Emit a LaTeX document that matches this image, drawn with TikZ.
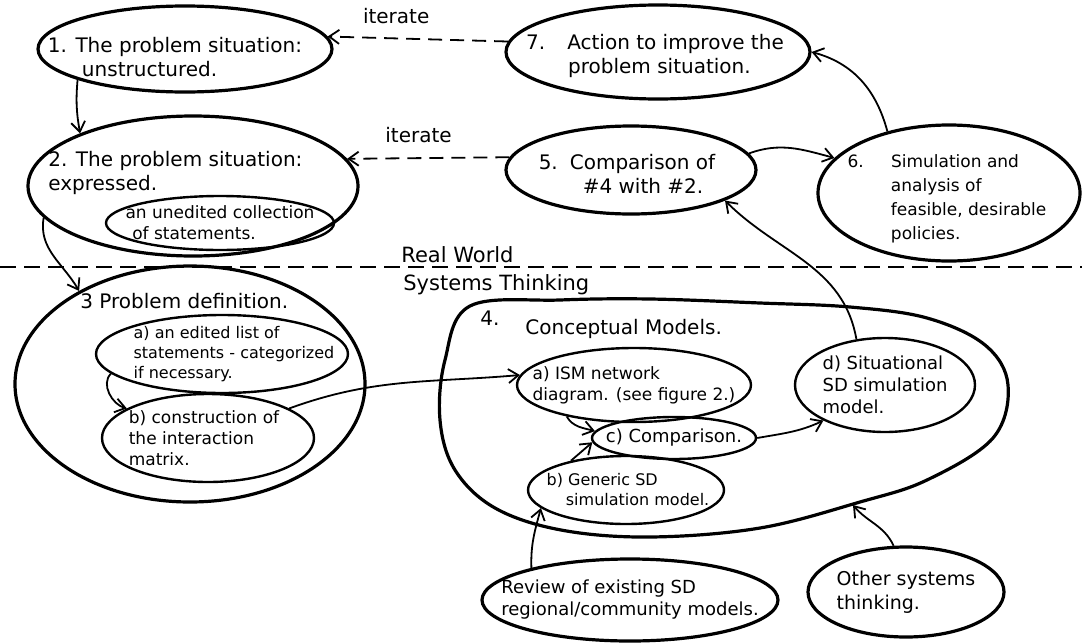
\documentclass[tikz,border=0pt]{standalone}
\usepackage{fontspec}
\setmainfont{DejaVu Sans}
\usetikzlibrary{shapes.geometric,arrows.meta}
\begin{document}
\begin{tikzpicture}[
            x=0.5pt,y=-0.5pt,
            every node/.append style={inner sep=0pt,align=left},
            stage/.style={ellipse,draw,line width=1.6pt},
            part/.style={ellipse,draw,line width=1.2pt},
            big/.style={font=\fontsize{10}{12}\selectfont},
            mid/.style={font=\fontsize{9}{11}\selectfont},
            small/.style={font=\fontsize{8.5}{10.5}\selectfont},
            tiny/.style={font=\fontsize{8}{10}\selectfont},
            flow/.style={-{Straight Barb[length=5pt,width=7pt]},line width=0.9pt},
            again/.style={flow,dash pattern=on 7pt off 4pt}
        ]
            \useasboundingbox (0,0) rectangle (1082,643);
            \node (n1) [stage,minimum width=147pt,minimum height=43pt,
                label={[big,xshift=-5pt,yshift=-4pt]center:{1. The problem situation:\\\hspace*{1.7em}unstructured.}}] at (185,49) {};
            \node (n7) [stage,minimum width=152pt,minimum height=47pt,
                label={[big,xshift=-1.5pt,yshift=-2pt]center:{7.\hspace{1.1em}Action to improve the\\\hspace*{2.1em}problem situation.}}] at (658,52) {};
            \node (n5) [stage,minimum width=125pt,minimum height=44pt,
                label={[big,xshift=-2pt,yshift=-2pt]center:{5.\hspace{.6em}Comparison of\\\hspace*{2.2em}\#4 with \#2.}}] at (631,170) {};
            \node (n6) [stage,minimum width=131pt,minimum height=68pt,
                label={[font=\fontsize{8.5}{12}\selectfont,xshift=-1pt,yshift=-3pt]center:{6.\hspace{1.6em}Simulation and\\\hspace*{2.55em}analysis of\\\hspace*{2.55em}feasible, desirable\\\hspace*{2.55em}policies.}}] at (949,193) {};
            \node (n2) [stage,minimum width=165pt,minimum height=70pt] at (193,186) {};
            \node (t2) [big,anchor=north west] at (48,151) {2. The problem situation:\\expressed.};
            \node (n2s) [part,minimum width=114pt,minimum height=27pt,
                label={[small]center:{an unedited collection\\\hspace*{.4em}of statements.}}] at (220,223) {};
            \draw[line width=1.1pt,dash pattern=on 8pt off 4pt] (0,267) -- (1082,267);
            \node (rw) [font=\fontsize{10.5}{12}\selectfont,anchor=base west] at (401,262) {Real World};
            \node (st) [font=\fontsize{10.5}{12}\selectfont,anchor=base west] at (403,290) {Systems Thinking};
            \node (n3) [stage,minimum width=175pt,minimum height=118pt] at (190,384) {};
            \node (t3) [big,anchor=base west] at (80,308) {3 Problem definition.};
            \node (n3a) [part,minimum width=126pt,minimum height=39pt,
                label={[tiny,xshift=6pt]center:{a) an edited list of\\statements - categorized\\if necessary.}}] at (222,354) {};
            \node (n3b) [part,minimum width=106pt,minimum height=44pt,
                label={[small,xshift=-2pt]center:{b) construction of\\the interaction\\matrix.}}] at (208,438) {};
            \draw[line width=1.6pt] plot[smooth cycle,tension=0.6] coordinates {
                (470,306) (560,300) (650,299) (760,303) (850,307) (927,318) (985,345)
                (1008,385) (993,438) (927,480) (860,502) (760,528) (650,537) (561,530)
                (495,508) (455,470) (440,420) (445,360)};
            \node (t4) [big,anchor=base west] at (480,325) {4.\hspace{1.3em}\raisebox{-4.5pt}{Conceptual Models.}};
            \node (n4a) [part,minimum width=117pt,minimum height=37pt,
                label={[small]center:{a) ISM network\\diagram. (see figure 2.)}}] at (634,385) {};
            \node (n4c) [part,minimum width=82pt,minimum height=21pt,
                label={[mid]center:{c) Comparison.}}] at (674,438) {};
            \node (n4b) [part,minimum width=98pt,minimum height=34pt,
                label={[tiny,xshift=1pt]center:{b) Generic SD\\\hspace*{1.2em}simulation model.}}] at (626,490) {};
            \node (n4d) [part,minimum width=90pt,minimum height=47pt,
                label={[mid]center:{d) Situational\\SD simulation\\model.}}] at (885,385) {};
            \node (rev) [stage,minimum width=148pt,minimum height=41pt,
                label={[mid]center:{Review of existing SD\\regional/community models.}}] at (630,600) {};
            \node (oth) [stage,minimum width=98pt,minimum height=45pt,
                label={[font=\fontsize{9.5}{12}\selectfont]center:{Other systems\\thinking.}}] at (906,592) {};
            \coordinate (n4in) at (853,505);
            \draw[flow] (n1.196) to[out=265,in=100] (n2.155);
            \draw[again] (n7.176) -- node[big,pos=.62,above=7pt] (it1) {iterate} (n1.5);
            \draw[again] (n5.174) -- node[big,pos=.56,above=7pt] (it2) {iterate} (n2.10);
            \draw[flow] (n2.192) to[out=260,in=120] (n3.140);
            \draw[flow] (n3a.190) to[out=225,in=165] (n3b.160);
            \draw[flow] (n3b.20) to[out=20,in=185] (n4a.175);
            \draw[flow] (n4a.205) to[out=-60,in=165] (n4c.175);
            \draw[flow] (n4b.152) -- (n4c.183);
            \draw[flow] (n4c.east) to[out=10,in=205] (n4d.210);
            \draw[flow] (n4d.122) to[out=100,in=-45] (n5.-18);
            \draw[flow] (n5.8) to[out=20,in=165] (n6.163);
            \draw[flow] (n6.135) to[out=105,in=-15] (n7.east);
            \draw[flow] (rev.162) to[out=92,in=255] (n4b.192);
            \draw[flow] (oth.105) to[out=115,in=-50] (n4in);
        \end{tikzpicture}
\end{document}
